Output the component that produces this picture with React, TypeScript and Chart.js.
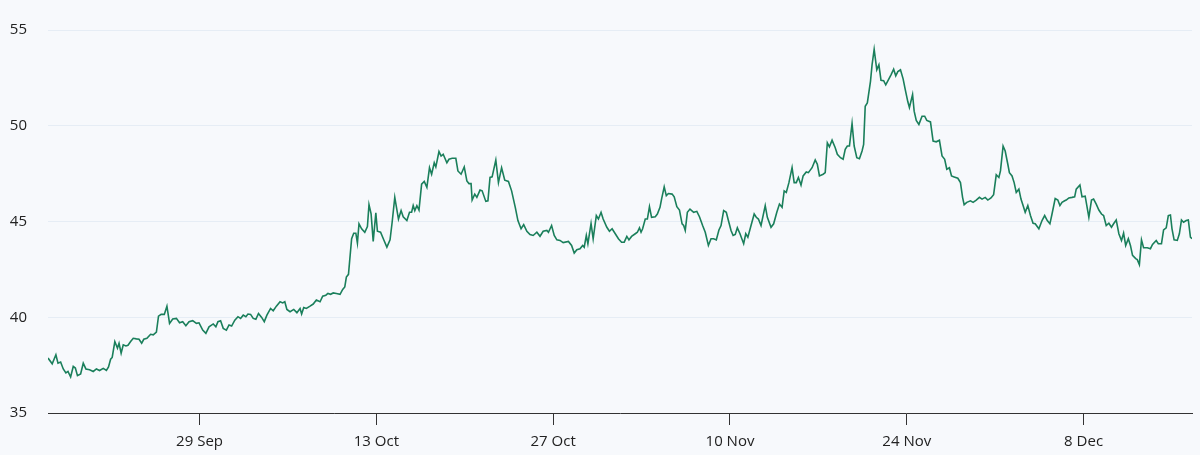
import { useEffect, useRef } from "react";
import { Chart, registerables } from "chart.js";

Chart.register(...registerables);

// x = hours since 17 Sep 00:00, y = price
const sepPoints: [number, number][] = [
  [0, 37.87], [8, 37.57], [15, 38.04], [19, 37.6], [24, 37.66], [29, 37.3], [34, 37.09], [38, 37.17],
  [43, 36.88], [48, 37.43], [52, 37.35], [56, 36.95], [62, 37.04], [67, 37.6], [72, 37.3], [79, 37.26],
  [86, 37.17], [92, 37.3], [98, 37.22], [105, 37.33], [111, 37.22], [115, 37.4], [119, 37.81], [122, 37.9],
  [127, 38.73], [132, 38.39], [135, 38.64], [139, 38.12], [143, 38.56], [148, 38.5], [152, 38.54], [157, 38.73],
  [162, 38.9], [168, 38.87], [173, 38.85], [178, 38.64], [182, 38.85], [188, 38.9], [195, 39.11], [200, 39.08],
  [206, 39.22], [210, 40.06], [215, 40.15], [221, 40.15], [226, 40.58], [231, 39.68], [237, 39.91], [244, 39.94],
  [250, 39.71], [256, 39.77], [262, 39.56], [268, 39.77], [275, 39.82], [282, 39.68], [287, 39.71], [294, 39.33],
  [300, 39.16], [306, 39.5], [314, 39.65], [319, 39.5], [323, 39.77], [328, 39.82], [333, 39.42],
];

const octPoints: [number, number][] = [
  [339, 39.33], [344, 39.6], [349, 39.54], [355, 39.85], [361, 40.03], [366, 39.94], [371, 40.11], [376, 40.03],
  [380, 40.17], [385, 40.15], [390, 39.94], [395, 39.89], [400, 40.2], [406, 39.99], [411, 39.77], [416, 40.11],
  [423, 40.46], [428, 40.34], [434, 40.58], [441, 40.81], [446, 40.75], [450, 40.81], [454, 40.41], [460, 40.29],
  [467, 40.41], [473, 40.24], [479, 40.46], [482, 40.17], [486, 40.51], [491, 40.46], [498, 40.58], [504, 40.69],
  [510, 40.9], [517, 40.81], [522, 41.1], [528, 41.15], [532, 41.24], [537, 41.2], [542, 41.27], [548, 41.24],
  [555, 41.2], [560, 41.45], [564, 41.58], [567, 42.1], [571, 42.24], [577, 44.1], [581, 44.39], [585, 44.39],
  [588, 43.87], [591, 44.88], [596, 44.62], [602, 44.44], [607, 44.74], [610, 45.88], [614, 45.4], [618, 43.96],
  [623, 45.45], [626, 44.49], [632, 44.44], [638, 44.05], [644, 43.66], [650, 44.04], [654, 44.96], [659, 46.26],
  [666, 45.13], [671, 45.57], [675, 45.25], [682, 45.05], [687, 45.48], [691, 45.48], [694, 45.83], [697, 45.57],
  [701, 45.83], [705, 45.6], [710, 46.95], [715, 47.09], [720, 46.78], [725, 47.81], [729, 47.47], [734, 48.07],
  [737, 47.85], [743, 48.65], [747, 48.42], [751, 48.51], [758, 48.07], [762, 48.25], [768, 48.3], [775, 48.3],
  [779, 47.64], [785, 47.47], [791, 47.85], [796, 47.12], [800, 46.98], [804, 46.98], [806, 46.12], [811, 46.43],
  [815, 46.26], [821, 46.64], [825, 46.6], [832, 46.05], [836, 46.08], [840, 47.3], [844, 47.33], [851, 48.21],
  [856, 47.03], [862, 47.81], [868, 47.16], [875, 47.09], [881, 46.6], [888, 45.74], [893, 45.05], [899, 44.62],
  [904, 44.84], [910, 44.49], [916, 44.32], [922, 44.27], [929, 44.44], [935, 44.23], [941, 44.49], [948, 44.53],
  [951, 44.44], [957, 44.79], [962, 44.27], [967, 44.04], [973, 44.01], [979, 43.9], [989, 43.96], [995, 43.75],
  [1000, 43.35], [1005, 43.53], [1011, 43.58], [1016, 43.75], [1019, 43.66], [1023, 44.27], [1026, 43.84], [1032, 44.9],
  [1036, 44.1], [1042, 45.31], [1046, 45.13], [1051, 45.48], [1055, 45.13], [1062, 44.7], [1067, 44.49], [1072, 44.62],
  [1078, 44.36],
];

const novPoints: [number, number][] = [
  [1084, 44.1], [1090, 43.92], [1095, 43.92], [1100, 44.22], [1104, 44.04], [1109, 44.22], [1116, 44.36], [1120, 44.44],
  [1124, 44.67], [1127, 44.44], [1130, 44.62], [1135, 45.13], [1139, 45.13], [1143, 45.77], [1147, 45.22], [1154, 45.25],
  [1158, 45.39], [1163, 45.74], [1166, 46.17], [1171, 46.81], [1175, 46.35], [1179, 46.46], [1186, 46.43], [1190, 46.29],
  [1195, 45.77], [1200, 45.6], [1205, 44.88], [1208, 44.79], [1211, 44.53], [1215, 45.48], [1220, 45.65], [1227, 45.48],
  [1233, 45.53], [1238, 45.25], [1244, 44.79], [1249, 44.44], [1255, 43.75], [1260, 44.1], [1265, 44.1], [1270, 44.04],
  [1275, 44.56], [1279, 44.79], [1284, 45.57], [1289, 45.48], [1293, 45.05], [1298, 44.53], [1302, 44.27], [1306, 44.32],
  [1310, 44.67], [1315, 44.36], [1322, 43.84], [1326, 44.36], [1330, 44.18], [1336, 44.79], [1342, 45.39], [1346, 45.22],
  [1350, 45.13], [1355, 44.79], [1363, 45.83], [1367, 45.22], [1374, 44.7], [1379, 44.88], [1385, 45.48], [1390, 45.91],
  [1395, 45.74], [1399, 46.6], [1403, 46.52], [1408, 47.03], [1414, 47.81], [1418, 47.03], [1422, 47.03], [1426, 47.3],
  [1431, 46.9], [1435, 47.38], [1441, 47.59], [1445, 47.55], [1452, 47.81], [1458, 48.21], [1462, 47.99], [1466, 47.38],
  [1473, 47.47], [1477, 47.55], [1481, 49.11], [1485, 48.9], [1490, 49.25], [1496, 48.85], [1500, 48.51], [1506, 48.33],
  [1511, 48.25], [1515, 48.77], [1519, 48.94], [1523, 48.94], [1528, 50.12], [1532, 48.94], [1537, 48.33], [1542, 48.28],
  [1547, 48.68], [1550, 49.03], [1553, 51.02], [1557, 51.19], [1563, 52.32], [1566, 53.18], [1570, 53.99], [1575, 52.92],
  [1579, 53.18], [1583, 52.37], [1588, 52.35], [1592, 52.14], [1597, 52.4], [1602, 52.66], [1607, 52.95], [1611, 52.61],
  [1615, 52.83], [1620, 52.92], [1625, 52.45], [1629, 51.9], [1634, 51.25], [1637, 50.95], [1643, 51.63], [1646, 50.76],
  [1650, 50.28], [1655, 50.07], [1661, 50.5], [1666, 50.5], [1670, 50.28], [1677, 50.2], [1682, 49.2], [1688, 49.16],
  [1694, 49.24], [1699, 48.42], [1704, 48.25], [1708, 47.73], [1713, 47.81], [1717, 47.38], [1722, 47.33], [1729, 47.26],
  [1734, 47.03], [1738, 46.26], [1741, 45.88], [1746, 46.0], [1753, 46.08], [1758, 46.0], [1764, 46.12], [1770, 46.26],
  [1775, 46.17], [1781, 46.26], [1786, 46.12], [1792, 46.23], [1797, 46.4],
];

const decPoints: [number, number][] = [
  [1802, 47.44], [1807, 47.3], [1810, 47.64], [1815, 48.94], [1819, 48.68], [1824, 47.99], [1827, 47.55], [1832, 47.38],
  [1836, 47.03], [1840, 46.52], [1845, 46.69], [1849, 46.17], [1853, 45.83], [1857, 45.48], [1862, 45.83], [1867, 45.31],
  [1872, 44.91], [1876, 44.88], [1883, 44.62], [1889, 45.05], [1894, 45.31], [1899, 45.05], [1904, 44.88], [1908, 45.39],
  [1914, 46.2], [1919, 46.12], [1923, 45.83], [1927, 46.0], [1932, 46.08], [1935, 46.12], [1940, 46.23], [1946, 46.26],
  [1951, 46.29], [1954, 46.69], [1961, 46.91], [1965, 46.29], [1971, 46.32], [1978, 45.22], [1983, 46.12], [1987, 46.17],
  [1992, 45.91], [1997, 45.6], [2002, 45.39], [2006, 45.31], [2011, 44.79], [2016, 44.91], [2021, 44.7], [2025, 44.88],
  [2030, 45.08], [2035, 44.36], [2040, 44.01], [2044, 44.39], [2048, 43.75], [2053, 44.1], [2057, 43.75], [2061, 43.23],
  [2067, 43.06], [2070, 43.01], [2074, 42.75], [2078, 44.04], [2082, 43.63], [2089, 43.63], [2095, 43.58], [2099, 43.8],
  [2106, 44.01], [2110, 43.84], [2116, 43.84], [2120, 44.56], [2125, 44.67], [2129, 45.31], [2133, 45.34], [2136, 44.62],
  [2140, 44.04], [2146, 44.01], [2150, 44.36], [2154, 45.08], [2158, 44.96], [2163, 45.05], [2167, 45.08], [2171, 44.18],
  [2174, 44.1],
];

const tickHours = [288, 624, 960, 1296, 1632, 1968];
const tickLabels = ["29 Sep", "13 Oct", "27 Oct", "10 Nov", "24 Nov", "8 Dec"];
const yTicks = [35, 40, 45, 50, 55];

export default function PriceChart() {
  const chartRef = useRef<HTMLCanvasElement>(null);
  const chartInstanceRef = useRef<Chart | null>(null);

  useEffect(() => {
    if (!chartRef.current) return;

    if (chartInstanceRef.current) {
      chartInstanceRef.current.destroy();
    }

    const ctx = chartRef.current.getContext("2d");
    if (!ctx) return;

    const points = [...sepPoints, ...octPoints, ...novPoints, ...decPoints].map(([x, y]) => ({ x, y }));
    const font = { family: "'Open Sans', sans-serif", size: 15 };

    chartInstanceRef.current = new Chart(ctx, {
      type: "line",
      data: {
        datasets: [{
          data: points,
          borderColor: "#1a7f5b",
          borderWidth: 1.6,
          pointRadius: 0,
          tension: 0,
          fill: false,
        }],
      },
      options: {
        responsive: true,
        maintainAspectRatio: false,
        animation: false,
        layout: { padding: { top: 28, right: 8, left: 0, bottom: 0 } },
        plugins: {
          legend: { display: false },
          tooltip: { enabled: false },
        },
        scales: {
          x: {
            type: "linear",
            min: 0,
            max: 2174,
            afterBuildTicks: (scale) => {
              scale.ticks = tickHours.map((value) => ({ value }));
            },
            afterFit: (scale) => {
              scale.height = 42;
            },
            ticks: {
              autoSkip: false,
              maxRotation: 0,
              padding: 8,
              color: "#222",
              font,
              callback: (_v, i) => tickLabels[i],
            },
            grid: {
              drawOnChartArea: false,
              drawTicks: true,
              tickLength: 12,
              tickColor: "#333",
              tickWidth: 1,
            },
            border: { display: true, color: "#333", width: 1 },
          },
          y: {
            min: 35,
            max: 55,
            afterBuildTicks: (scale) => {
              scale.ticks = yTicks.map((value) => ({ value }));
            },
            afterFit: (scale) => {
              scale.width = 48;
            },
            ticks: {
              padding: 21,
              color: "#222",
              font,
            },
            grid: {
              color: "#e6edf5",
              drawTicks: false,
            },
            border: { display: false },
          },
        },
      },
    });

    return () => {
      if (chartInstanceRef.current) {
        chartInstanceRef.current.destroy();
        chartInstanceRef.current = null;
      }
    };
  }, []);

  return (
    <div style={{ position: "absolute", left: 0, top: 0, width: 1200, height: 455, background: "#f7f9fc" }}>
      <canvas ref={chartRef} data-testid="chart-price"></canvas>
    </div>
  );
}
